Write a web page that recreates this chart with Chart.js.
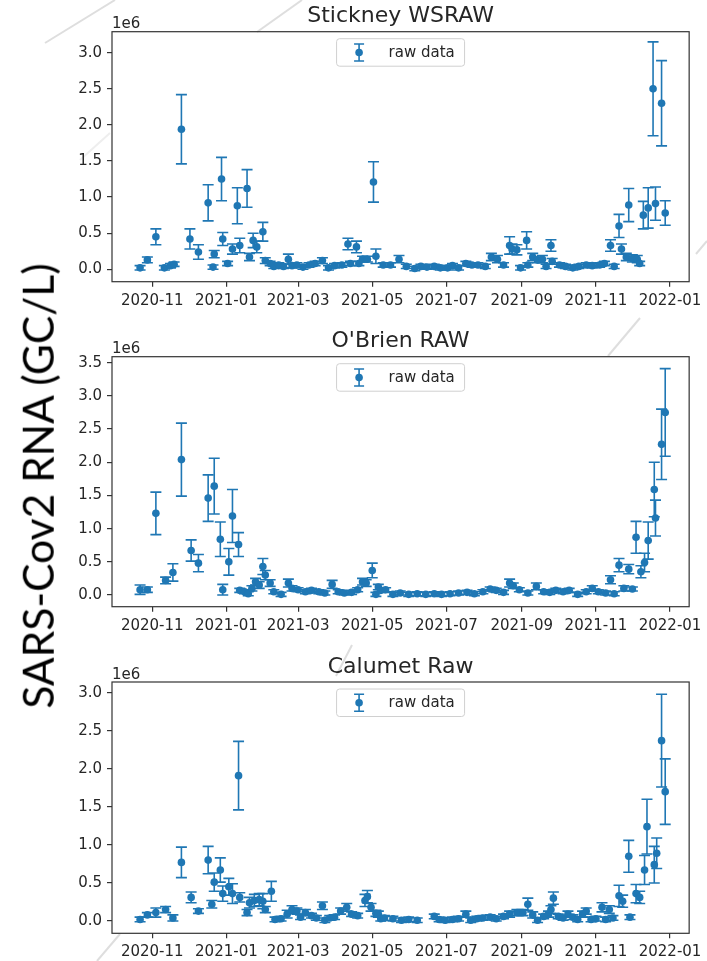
<!DOCTYPE html>
<html>
<head>
<meta charset="utf-8">
<script src="https://cdn.jsdelivr.net/npm/chart.js@4.4.1/dist/chart.umd.min.js"></script>
<style>
  html, body { margin: 0; padding: 0; background: #fff; }
  body { width: 707px; height: 961px; position: relative; overflow: hidden; }
  canvas { position: absolute; left: 0; }
  #deco { position: absolute; left: 0; top: 0; }
  #ylab {
    position: absolute; left: 38px; top: 486px;
    transform: translate(-50%, -50%) rotate(-90deg);
    font: 42.5px Lato, sans-serif; line-height: 1; white-space: nowrap; color: #000;
  }
</style>
</head>
<body>
<svg id="deco" width="707" height="961">
  <g stroke="#dedede" stroke-width="2">
    <line x1="45" y1="43" x2="115" y2="0"/>
    <line x1="257" y1="32" x2="302" y2="0"/>
    <line x1="80" y1="160" x2="110" y2="133" stroke="#eeeeee"/>
    <line x1="696" y1="254" x2="707" y2="241"/>
    <line x1="608" y1="356" x2="640" y2="318"/>
    <line x1="336" y1="676" x2="352" y2="645"/>
    <line x1="97" y1="961" x2="120" y2="934"/>
  </g>
</svg>
<canvas id="c1" width="707" height="318" style="top:0px"></canvas>
<canvas id="c2" width="707" height="327" style="top:318px"></canvas>
<canvas id="c3" width="707" height="316" style="top:645px"></canvas>
<div id="ylab">SARS-Cov2 RNA (GC/L)</div>

<script>
"use strict";

// values are in units of 1e6 GC/L, errors are the half-length of the bar
let xTickLabels = ['2020-11', '2021-01', '2021-03', '2021-05', '2021-07', '2021-09', '2021-11', '2022-01'];

let stickneyDates = [
  '2020-10-22','2020-10-28','2020-11-04','2020-11-11','2020-11-16','2020-11-19','2020-11-25','2020-12-02','2020-12-09','2020-12-17',
  '2020-12-21','2020-12-22','2020-12-28','2020-12-29','2021-01-02','2021-01-06','2021-01-10','2021-01-12','2021-01-18','2021-01-20',
  '2021-01-23','2021-01-26','2021-01-31','2021-02-02','2021-02-06','2021-02-09','2021-02-13','2021-02-17','2021-02-21','2021-02-24',
  '2021-02-28','2021-03-05','2021-03-10','2021-03-15','2021-03-21','2021-03-26','2021-03-31','2021-04-06','2021-04-11','2021-04-13',
  '2021-04-18','2021-04-20','2021-04-23','2021-04-27','2021-05-02','2021-05-04','2021-05-10','2021-05-16','2021-05-23','2021-05-29',
  '2021-06-05','2021-06-10','2021-06-15','2021-06-21','2021-06-26','2021-07-02','2021-07-06','2021-07-11','2021-07-17','2021-07-22',
  '2021-07-27','2021-08-02','2021-08-07','2021-08-12','2021-08-17','2021-08-22','2021-08-24','2021-08-28','2021-08-31','2021-09-05',
  '2021-09-06','2021-09-10','2021-09-14','2021-09-18','2021-09-21','2021-09-25','2021-09-26','2021-10-02','2021-10-07','2021-10-13',
  '2021-10-18','2021-10-24','2021-10-29','2021-11-04','2021-11-08','2021-11-13','2021-11-16','2021-11-20','2021-11-22','2021-11-26',
  '2021-11-28','2021-12-01','2021-12-05','2021-12-07','2021-12-10','2021-12-14','2021-12-18','2021-12-20','2021-12-25','2021-12-28'
];
let stickneyVals = [
  0.02,0.13,0.45,0.02,0.05,0.07,1.94,0.42,0.24,0.92,
  0.03,0.21,1.25,0.42,0.08,0.28,0.88,0.33,1.12,0.17,
  0.40,0.31,0.52,0.12,0.08,0.04,0.06,0.04,0.14,0.05,
  0.06,0.03,0.06,0.08,0.12,0.02,0.05,0.06,0.35,0.08,
  0.31,0.08,0.14,0.14,1.21,0.18,0.06,0.06,0.14,0.04,
  0.01,0.04,0.03,0.04,0.02,0.02,0.05,0.02,0.08,0.06,
  0.06,0.04,0.17,0.14,0.06,0.33,0.28,0.27,0.02,0.40,
  0.06,0.17,0.13,0.14,0.04,0.33,0.11,0.06,0.04,0.02,
  0.04,0.06,0.05,0.06,0.08,0.33,0.04,0.60,0.28,0.17,
  0.89,0.15,0.14,0.08,0.75,0.85,2.50,0.91,2.30,0.78
];
let stickneyErr = [
  0.03,0.04,0.11,0.03,0.03,0.03,0.48,0.14,0.10,0.25,
  0.03,0.05,0.30,0.09,0.03,0.07,0.25,0.10,0.26,0.05,
  0.10,0.08,0.13,0.04,0.03,0.03,0.03,0.03,0.07,0.03,
  0.03,0.03,0.03,0.03,0.04,0.03,0.03,0.03,0.08,0.03,
  0.08,0.03,0.04,0.04,0.28,0.10,0.03,0.03,0.05,0.03,
  0.03,0.03,0.03,0.03,0.03,0.03,0.03,0.03,0.03,0.03,
  0.03,0.03,0.05,0.05,0.03,0.12,0.07,0.07,0.03,0.12,
  0.03,0.05,0.04,0.05,0.03,0.08,0.04,0.03,0.03,0.03,
  0.03,0.03,0.03,0.03,0.03,0.08,0.03,0.16,0.07,0.05,
  0.23,0.05,0.05,0.03,0.19,0.28,0.65,0.23,0.59,0.17
];

let obrienDates = [
  '2020-10-22','2020-10-28','2020-11-04','2020-11-12','2020-11-18','2020-11-25','2020-12-03','2020-12-09','2020-12-17','2020-12-22',
  '2020-12-27','2020-12-29','2021-01-03','2021-01-06','2021-01-11','2021-01-12','2021-01-16','2021-01-19','2021-01-22','2021-01-25',
  '2021-01-28','2021-01-31','2021-02-02','2021-02-06','2021-02-09','2021-02-15','2021-02-21','2021-02-24','2021-03-01','2021-03-07',
  '2021-03-12','2021-03-18','2021-03-23','2021-03-29','2021-04-03','2021-04-08','2021-04-14','2021-04-19','2021-04-23','2021-04-26',
  '2021-05-01','2021-05-04','2021-05-06','2021-05-08','2021-05-12','2021-05-18','2021-05-24','2021-05-31','2021-06-07','2021-06-14',
  '2021-06-21','2021-06-27','2021-07-04','2021-07-11','2021-07-18','2021-07-24','2021-07-31','2021-08-06','2021-08-11','2021-08-17',
  '2021-08-22','2021-08-25','2021-08-30','2021-09-06','2021-09-13','2021-09-19','2021-09-24','2021-09-29','2021-10-05','2021-10-10',
  '2021-10-17','2021-10-24','2021-10-29','2021-11-03','2021-11-09','2021-11-13','2021-11-16','2021-11-20','2021-11-24','2021-11-28',
  '2021-12-01','2021-12-04','2021-12-08','2021-12-11','2021-12-14','2021-12-19','2021-12-20','2021-12-25','2021-12-28'
];
let obrienVals = [
  0.08,0.08,1.23,0.22,0.34,2.04,0.67,0.48,1.46,1.64,
  0.84,0.08,0.50,1.19,0.76,0.07,0.05,0.02,0.10,0.20,
  0.15,0.43,0.30,0.18,0.05,0.01,0.18,0.10,0.08,0.05,
  0.07,0.05,0.03,0.16,0.05,0.03,0.04,0.08,0.20,0.18,
  0.37,0.01,0.12,0.07,0.08,0.01,0.03,0.01,0.02,0.01,
  0.02,0.01,0.02,0.03,0.04,0.02,0.05,0.09,0.07,0.04,
  0.18,0.14,0.08,0.03,0.13,0.05,0.04,0.07,0.05,0.07,
  0.01,0.05,0.10,0.05,0.03,0.23,0.02,0.45,0.10,0.39,
  0.09,0.87,0.35,0.49,0.82,1.59,1.16,2.27,2.75
];
let obrienErr = [
  0.07,0.04,0.32,0.05,0.13,0.55,0.16,0.13,0.35,0.42,
  0.26,0.08,0.20,0.40,0.18,0.03,0.03,0.03,0.04,0.05,
  0.05,0.12,0.07,0.05,0.03,0.03,0.06,0.04,0.03,0.03,
  0.03,0.03,0.03,0.06,0.03,0.03,0.03,0.03,0.05,0.05,
  0.11,0.03,0.04,0.03,0.03,0.03,0.03,0.03,0.03,0.03,
  0.03,0.03,0.03,0.03,0.03,0.03,0.03,0.03,0.03,0.03,
  0.06,0.04,0.03,0.03,0.05,0.03,0.03,0.03,0.03,0.03,
  0.03,0.03,0.04,0.03,0.03,0.06,0.03,0.10,0.04,0.07,
  0.03,0.24,0.09,0.14,0.28,0.41,0.27,0.53,0.66
];

let calumetDates = [
  '2020-10-22','2020-10-28','2020-11-04','2020-11-12','2020-11-18','2020-11-25','2020-12-03','2020-12-09','2020-12-17','2020-12-20',
  '2020-12-22','2020-12-27','2020-12-29','2021-01-03','2021-01-06','2021-01-11','2021-01-12','2021-01-18','2021-01-20','2021-01-24',
  '2021-01-28','2021-01-31','2021-02-02','2021-02-07','2021-02-10','2021-02-15','2021-02-20','2021-02-24','2021-02-28','2021-03-03',
  '2021-03-07','2021-03-12','2021-03-16','2021-03-21','2021-03-23','2021-03-27','2021-03-31','2021-04-05','2021-04-10','2021-04-14',
  '2021-04-19','2021-04-25','2021-04-27','2021-04-30','2021-05-04','2021-05-06','2021-05-08','2021-05-11','2021-05-18','2021-05-25',
  '2021-05-31','2021-06-07','2021-06-21','2021-06-25','2021-06-30','2021-07-06','2021-07-11','2021-07-17','2021-07-21','2021-07-26',
  '2021-07-31','2021-08-06','2021-08-11','2021-08-17','2021-08-22','2021-08-28','2021-09-02','2021-09-06','2021-09-10','2021-09-14',
  '2021-09-19','2021-09-23','2021-09-25','2021-09-27','2021-10-01','2021-10-05','2021-10-09','2021-10-13','2021-10-17','2021-10-21',
  '2021-10-24','2021-10-28','2021-11-01','2021-11-06','2021-11-09','2021-11-12','2021-11-15','2021-11-20','2021-11-23','2021-11-28',
  '2021-11-29','2021-12-04','2021-12-07','2021-12-11','2021-12-13','2021-12-19','2021-12-21','2021-12-25','2021-12-28'
];
let calumetVals = [
  0.02,0.08,0.11,0.15,0.04,0.77,0.31,0.13,0.80,0.22,
  0.51,0.67,0.36,0.45,0.36,1.91,0.31,0.11,0.24,0.27,
  0.28,0.26,0.15,0.39,0.02,0.03,0.09,0.15,0.13,0.05,
  0.11,0.07,0.04,0.20,0.01,0.04,0.05,0.13,0.18,0.09,
  0.07,0.27,0.32,0.18,0.10,0.09,0.03,0.04,0.03,0.01,
  0.02,0.01,0.06,0.02,0.01,0.02,0.03,0.09,0.01,0.03,
  0.04,0.05,0.03,0.06,0.09,0.11,0.11,0.22,0.08,0.01,
  0.06,0.09,0.15,0.30,0.06,0.04,0.09,0.05,0.02,0.09,
  0.13,0.02,0.03,0.18,0.02,0.15,0.04,0.33,0.26,0.85,
  0.05,0.36,0.31,0.67,1.24,0.74,0.89,2.37,1.70
];
let calumetErr = [
  0.03,0.03,0.06,0.04,0.04,0.20,0.07,0.03,0.18,0.05,
  0.12,0.16,0.10,0.11,0.13,0.45,0.06,0.04,0.07,0.08,
  0.08,0.10,0.04,0.13,0.03,0.03,0.05,0.05,0.04,0.03,
  0.04,0.03,0.03,0.05,0.03,0.03,0.03,0.04,0.05,0.03,
  0.03,0.08,0.08,0.05,0.04,0.04,0.03,0.03,0.03,0.03,
  0.03,0.03,0.03,0.03,0.03,0.03,0.03,0.04,0.03,0.03,
  0.03,0.03,0.03,0.03,0.04,0.04,0.04,0.08,0.04,0.03,
  0.03,0.04,0.05,0.08,0.03,0.03,0.04,0.03,0.03,0.04,
  0.04,0.03,0.03,0.06,0.03,0.05,0.03,0.14,0.08,0.21,
  0.03,0.12,0.08,0.19,0.36,0.24,0.20,0.61,0.43
];

let stickneyTicks = [0, 0.5, 1.0, 1.5, 2.0, 2.5, 3.0];
let obrienTicks = [0, 0.5, 1.0, 1.5, 2.0, 2.5, 3.0, 3.5];
let calumetTicks = [0, 0.5, 1.0, 1.5, 2.0, 2.5, 3.0];

const blue = '#1f77b4';
const txt = '#262626';
const axisCol = '#333333';
const DAY = 86400000;
const t0 = Date.parse('2020-11-01');

Chart.defaults.font.family = "'DejaVu Sans', sans-serif";
Chart.defaults.color = txt;

function toDay(s){
    return (Date.parse(s) - t0) / DAY;
}

let xTickDays = xTickLabels.map(l => toDay(l + '-01'));

// matplotlib style error bars, drawn under the markers
const errorBars = {
    id: 'errorBars',
    beforeDatasetsDraw(chart){
        let ctx = chart.ctx;
        let xs = chart.scales.x, ys = chart.scales.y;
        ctx.save();
        ctx.strokeStyle = blue;
        ctx.lineWidth = 1.6;
        chart.data.datasets[0].data.forEach(p => {
            let x = xs.getPixelForValue(p.x);
            let lo = ys.getPixelForValue(p.y - p.e);
            let hi = ys.getPixelForValue(p.y + p.e);
            ctx.beginPath();
            ctx.moveTo(x, lo); ctx.lineTo(x, hi);
            ctx.moveTo(x - 5.5, lo); ctx.lineTo(x + 5.5, lo);
            ctx.moveTo(x - 5.5, hi); ctx.lineTo(x + 5.5, hi);
            ctx.stroke();
        });
        ctx.restore();
    }
};

// axes box, offset text and the framed legend
const mplDecor = {
    id: 'mplDecor',
    afterDraw(chart){
        let ctx = chart.ctx;
        let a = chart.chartArea;
        ctx.save();
        ctx.strokeStyle = axisCol;
        ctx.lineWidth = 1.2;
        ctx.strokeRect(a.left, a.top, a.right - a.left, a.bottom - a.top);

        ctx.fillStyle = txt;
        ctx.font = "15px 'DejaVu Sans'";
        ctx.textAlign = 'left';
        ctx.textBaseline = 'alphabetic';
        ctx.fillText('1e6', a.left, a.top - 3.5);

        // legend
        let w = 128, h = 27.5;
        let bx = (a.left + a.right) / 2 - w / 2;
        let by = a.top + 7;
        let cy = by + h / 2;
        ctx.beginPath();
        ctx.roundRect(bx, by, w, h, 3);
        ctx.fillStyle = 'rgba(255,255,255,0.8)';
        ctx.fill();
        ctx.strokeStyle = '#d0d0d0';
        ctx.lineWidth = 1;
        ctx.stroke();

        let gx = bx + 22.5;
        ctx.strokeStyle = blue;
        ctx.lineWidth = 1.6;
        ctx.beginPath();
        ctx.moveTo(gx, cy - 8.5); ctx.lineTo(gx, cy + 8.5);
        ctx.moveTo(gx - 5, cy - 8.5); ctx.lineTo(gx + 5, cy - 8.5);
        ctx.moveTo(gx - 5, cy + 8.5); ctx.lineTo(gx + 5, cy + 8.5);
        ctx.stroke();
        ctx.beginPath();
        ctx.arc(gx, cy, 3.8, 0, Math.PI * 2);
        ctx.fillStyle = blue;
        ctx.fill();

        ctx.fillStyle = txt;
        ctx.textBaseline = 'middle';
        ctx.fillText(chart.data.datasets[0].label, bx + 52, cy + 0.5);
        ctx.restore();
    }
};

function makePanel(id, title, dates, vals, errs, yTicks, yMin, yMax, box){
    let points = dates.map((d, i) => ({x: toDay(d), y: vals[i], e: errs[i]}));
    let ctx = document.getElementById(id).getContext('2d');
    return new Chart(ctx, {
        type: 'scatter',
        data: {
            datasets: [{
                label: 'raw data',
                data: points,
                pointRadius: 3.8,
                pointHoverRadius: 3.8,
                pointBorderWidth: 0,
                backgroundColor: blue,
                borderColor: blue
            }]
        },
        options: {
            responsive: false,
            animation: false,
            devicePixelRatio: 1,
            layout: { padding: { left: 0, top: 0, right: 707 - box.right, bottom: 0 } },
            plugins: {
                legend: { display: false },
                tooltip: { enabled: false },
                title: {
                    display: true,
                    text: title,
                    fullSize: false,
                    color: txt,
                    font: { size: 22, weight: 'normal', lineHeight: 1.2 },
                    padding: { top: box.titleY - 13.2, bottom: box.plotTop - box.titleY - 13.2 }
                }
            },
            scales: {
                x: {
                    type: 'linear',
                    min: -33.1,
                    max: 441.7,
                    afterBuildTicks: s => { s.ticks = xTickDays.map(v => ({value: v})); },
                    afterFit: s => { s.height = box.height - box.plotBottom; },
                    ticks: {
                        autoSkip: false,
                        maxRotation: 0,
                        padding: 5,
                        font: { size: 15 },
                        callback: (v, i) => xTickLabels[i]
                    },
                    grid: { drawOnChartArea: false, tickLength: 5, color: axisCol, lineWidth: 1.2 },
                    border: { display: false }
                },
                y: {
                    min: yMin,
                    max: yMax,
                    afterBuildTicks: s => { s.ticks = yTicks.map(v => ({value: v})); },
                    afterFit: s => { s.width = box.left; },
                    ticks: {
                        padding: 5,
                        font: { size: 15 },
                        callback: v => v.toFixed(1)
                    },
                    grid: { drawOnChartArea: false, tickLength: 5, color: axisCol, lineWidth: 1.2 },
                    border: { display: false }
                }
            }
        },
        plugins: [errorBars, mplDecor]
    });
}

makePanel('c1', 'Stickney WSRAW', stickneyDates, stickneyVals, stickneyErr, stickneyTicks, -0.172, 3.291,
    { left: 112, right: 695.3, height: 318, plotTop: 31.7, plotBottom: 281.7, titleY: 16.5 });
makePanel('c2', "O'Brien RAW", obrienDates, obrienVals, obrienErr, obrienTicks, -0.176, 3.59,
    { left: 112, right: 695.3, height: 327, plotTop: 38.7, plotBottom: 288.7, titleY: 23.5 });
makePanel('c3', 'Calumet Raw', calumetDates, calumetVals, calumetErr, calumetTicks, -0.162, 3.141,
    { left: 112, right: 695.3, height: 316, plotTop: 37, plotBottom: 288.3, titleY: 22 });
</script>
</body>
</html>
